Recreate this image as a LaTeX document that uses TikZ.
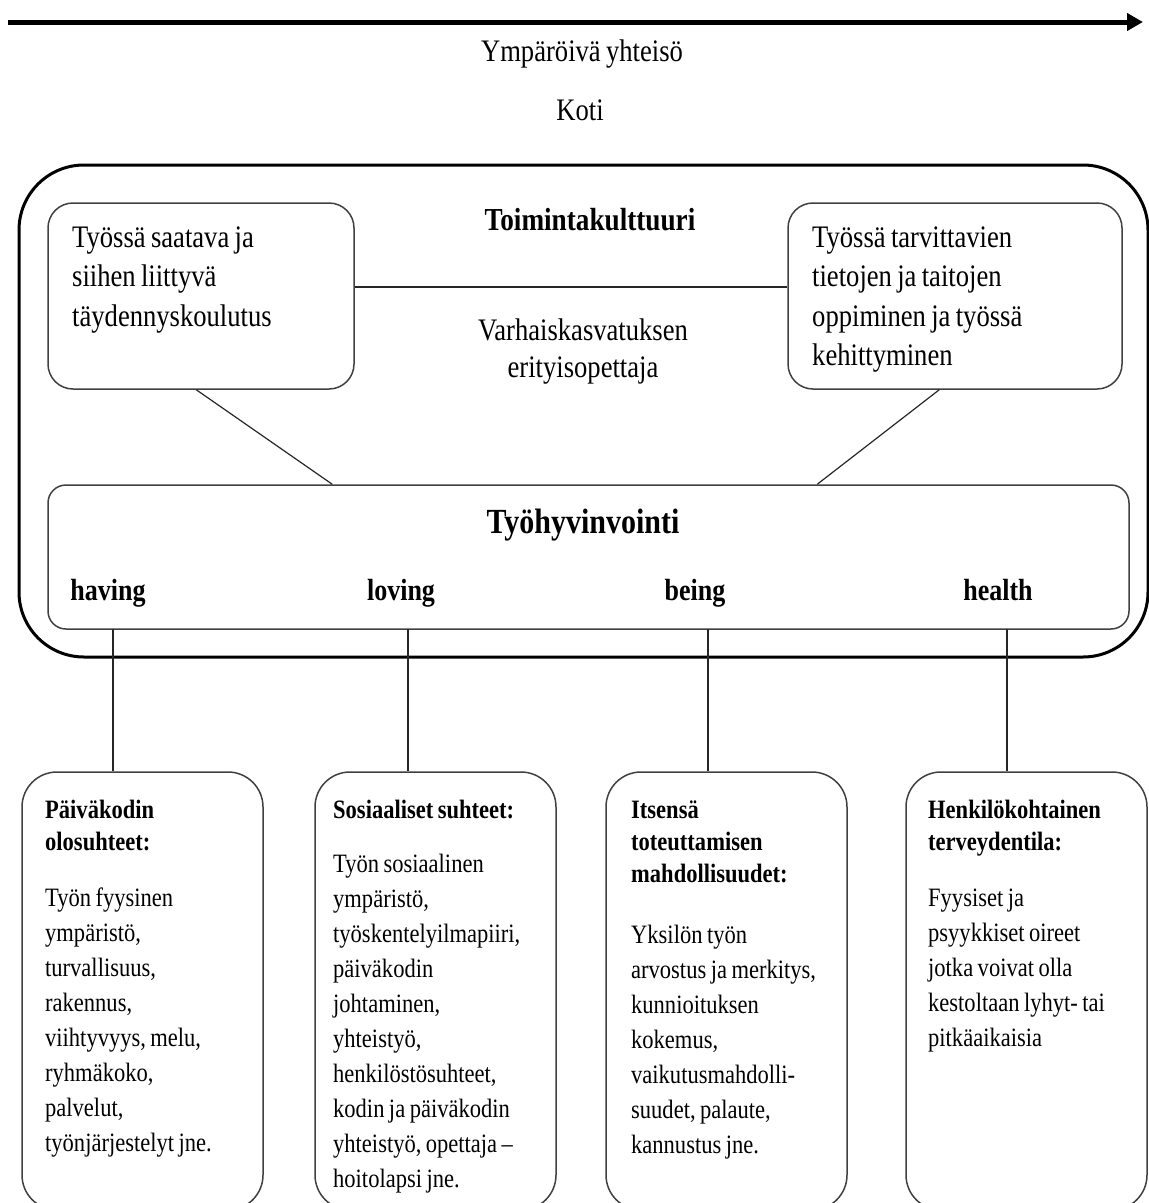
\documentclass[tikz,border=0pt]{standalone}
\usepackage{fontspec}
\setmainfont{Liberation Serif}[FakeStretch=0.85, WordSpace=0.8]
\usetikzlibrary{arrows.meta}

\tikzstyle{outerbox} = [rectangle, rounded corners=65pt,
minimum width=1129pt,
minimum height=492pt,
inner sep=0pt,
line width=3pt,
draw=black]
\tikzstyle{topbox} = [rectangle, rounded corners=25pt,
minimum height=186pt,
inner sep=0pt,
line width=1.5pt,
draw=black!75]
\tikzstyle{wellbox} = [rectangle, rounded corners=18pt,
minimum width=1081pt,
minimum height=144pt,
inner sep=0pt,
line width=1.5pt,
draw=black!75]
\tikzstyle{factor} = [rectangle, rounded corners=35pt,
minimum width=241pt,
minimum height=438pt,
inner sep=0pt,
line width=1.5pt,
draw=black!75]
\tikzstyle{ctext} = [font=\fontsize{31.3}{37}\selectfont, inner sep=0pt, anchor=base]
\tikzstyle{btext} = [font=\bfseries\fontsize{30.6}{37}\selectfont, inner sep=0pt, anchor=base]
\tikzstyle{toptext} = [font=\fontsize{31.3}{39.5}\selectfont, inner sep=0pt,
anchor=base west, text width=320pt, align=flush left]
\tikzstyle{headtext} = [font=\bfseries\fontsize{26.5}{32}\selectfont, inner sep=0pt,
anchor=base west, text width=230pt, align=flush left]
\tikzstyle{bodytext} = [font=\fontsize{26.5}{35}\selectfont, inner sep=0pt,
anchor=base west, text width=230pt, align=flush left]
\tikzstyle{conn} = [line width=1.2pt, draw=black!85]
\tikzstyle{arrow} = [line width=5pt, -{Triangle[length=16pt,width=17pt]}]

\begin{document}
\begin{tikzpicture}[x=1pt, y=-1pt]
\useasboundingbox (0,0) rectangle (1149,1203);

% surroundings
\coordinate (arrL) at (8,22);
\coordinate (arrR) at (1143,22);
\draw [arrow] (arrL) -- (arrR);
\node (comm) [ctext] at (582,61) {Ympäröivä yhteisö};
\node (home) [ctext] at (580,120) {Koti};

% operating culture
\node (culture) [outerbox] at (583.5,411) {};
\node (train) [topbox, minimum width=306pt] at (201,296) {};
\node (learn) [topbox, minimum width=334pt] at (955,296) {};
\node (cultname) [btext, font=\bfseries\fontsize{32}{37}\selectfont] at (590,230) {Toimintakulttuuri};
\node (teacher) [ctext, text width=320pt, align=flush center] at (583,340) {Varhaiskasvatuksen\\erityisopettaja};
\node (traintxt) [toptext] at (72,247) {Työssä saatava ja\\siihen liittyvä\\täydennyskoulutus};
\node (learntxt) [toptext] at (812,247) {Työssä tarvittavien\\tietojen ja taitojen\\oppiminen ja työssä\\kehittyminen};

% well-being
\node (well) [wellbox] at (588.5,557) {};
\node (wellname) [btext, font=\bfseries\fontsize{35.3}{40}\selectfont] at (583,533) {Työhyvinvointi};
\node (having) [btext] at (108,600) {having};
\node (loving) [btext] at (401,600) {loving};
\node (being) [btext] at (695,600) {being};
\node (health) [btext] at (998,600) {health};

% factors
\node (boxA) [factor] at (142.5,991) {};
\node (boxB) [factor] at (435.5,991) {};
\node (boxC) [factor] at (726.5,991) {};
\node (boxD) [factor] at (1026.5,991) {};

\node (headA) [headtext] at (45,818) {Päiväkodin\\olosuhteet:};
\node (bodyA) [bodytext] at (45,906) {Työn fyysinen\\ympäristö,\\turvallisuus,\\rakennus,\\viihtyvyys, melu,\\ryhmäkoko,\\palvelut,\\työnjärjestelyt jne.};
\node (headB) [headtext] at (333,818) {Sosiaaliset suhteet:};
\node (bodyB) [bodytext] at (333,872) {Työn sosiaalinen\\ympäristö,\\työskentelyilmapiiri,\\päiväkodin\\johtaminen,\\yhteistyö,\\henkilöstösuhteet,\\kodin ja päiväkodin\\yhteistyö, opettaja –\\hoitolapsi jne.};
\node (headC) [headtext] at (631,818) {Itsensä\\toteuttamisen\\mahdollisuudet:};
\node (bodyC) [bodytext] at (631,943) {Yksilön työn\\arvostus ja merkitys,\\kunnioituksen\\kokemus,\\vaikutusmahdolli-\\suudet, palaute,\\kannustus jne.};
\node (headD) [headtext] at (928,818) {Henkilökohtainen\\terveydentila:};
\node (bodyD) [bodytext] at (928,906) {Fyysiset ja\\psyykkiset oireet\\jotka voivat olla\\kestoltaan lyhyt- tai\\pitkäaikaisia};

% connectors
\draw [conn] ([yshift=9pt]train.east) -- ([yshift=9pt]learn.west);
\draw [conn] ([xshift=149pt]train.south west) -- ([xshift=285pt]well.north west);
\draw [conn] ([xshift=152pt]learn.south west) -- ([xshift=770pt]well.north west);
\coordinate (cA) at (113,629);
\coordinate (cB) at (408,629);
\coordinate (cC) at (708,629);
\coordinate (cD) at (1007,629);
\draw [conn] (cA) -- (cA |- boxA.north);
\draw [conn] (cB) -- (cB |- boxB.north);
\draw [conn] (cC) -- (cC |- boxC.north);
\draw [conn] (cD) -- (cD |- boxD.north);
\end{tikzpicture}
\end{document}
